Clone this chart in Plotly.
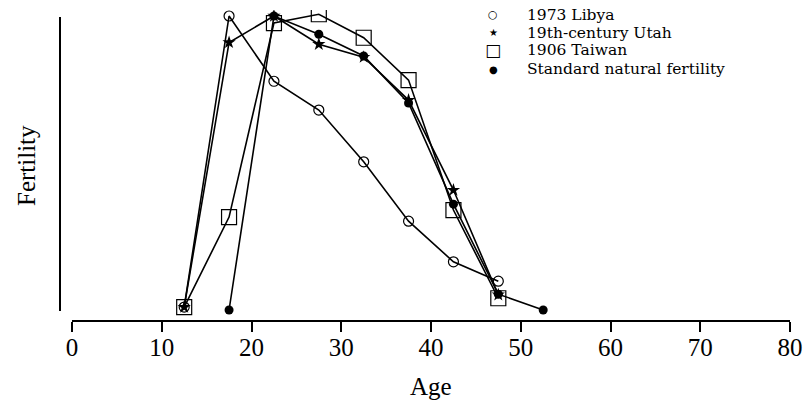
import plotly.graph_objects as go

ages = [12.5, 17.5, 22.5, 27.5, 32.5, 37.5, 42.5, 47.5]
ages_std = [17.5, 22.5, 27.5, 32.5, 37.5, 42.5, 47.5, 52.5]
libya = [0.005, 0.500, 0.389, 0.340, 0.252, 0.151, 0.082, 0.049]
utah = [0.005, 0.455, 0.500, 0.452, 0.430, 0.357, 0.204, 0.026]
taiwan = [0.005, 0.158, 0.488, 0.503, 0.463, 0.391, 0.170, 0.020]
standard = [0.0, 0.500, 0.469, 0.432, 0.352, 0.180, 0.027, 0.0]
x_ticks = [0, 10, 20, 30, 40, 50, 60, 70, 80]
series_names = ["1973 Libya", "19th-century Utah", "1906 Taiwan", "Standard natural fertility"]
legend_glyphs = ["○", "★", "□", "●"]

SERIF = "Liberation Serif"
marker_styles = [
    dict(symbol="circle-open", size=10, line=dict(width=1.2, color="black")),
    dict(symbol="star", size=10),
    dict(symbol="square-open", size=15, line=dict(width=1.2, color="black")),
    dict(symbol="circle", size=9),
]
series_x = [ages, ages, ages, ages_std]
series_y = [libya, utah, taiwan, standard]

fig = go.Figure()
for name, xs, ys, mk in zip(series_names, series_x, series_y, marker_styles):
    fig.add_trace(go.Scatter(x=xs, y=ys, mode="lines+markers", name=name,
                             line=dict(color="black", width=1.6), marker=dict(color="black", **mk),
                             showlegend=False))

W, H = 804, 406
# plot area in window pixels: x 72..790, y 10..320
L, R, T, B = 72, 804 - 790, 10, 406 - 320
pw, ph = W - L - R, H - T - B

def px(xp):
    return (xp - L) / pw

def py(yp):
    return (H - B - yp) / ph

annotations = []
legend_rows = [14.5, 32.5, 50.5, 69]
glyph_sizes = [11, 10, 17, 10]
for name, g, gs, yr in zip(series_names, legend_glyphs, glyph_sizes, legend_rows):
    annotations.append(dict(xref="paper", yref="paper", x=px(493), y=py(yr), text=g, showarrow=False,
                            xanchor="center", yanchor="middle", borderpad=0,
                            font=dict(family="DejaVu Sans", size=gs, color="black")))
    annotations.append(dict(xref="paper", yref="paper", x=px(526), y=py(yr), text=name, showarrow=False,
                            xanchor="left", yanchor="middle", borderpad=0,
                            font=dict(family="DejaVu Serif", size=15.5, color="black")))
annotations.append(dict(xref="paper", yref="paper", x=px(431), y=py(386), text="Age", showarrow=False,
                        xanchor="center", yanchor="middle", font=dict(family=SERIF, size=25, color="black")))
annotations.append(dict(xref="paper", yref="paper", x=px(27), y=py(166), text="Fertility", showarrow=False,
                        textangle=-90, xanchor="center", yanchor="middle", font=dict(family=SERIF, size=25, color="black")))

fig.update_layout(
    width=W, height=H,
    margin=dict(l=L, r=R, t=T, b=B, autoexpand=False),
    paper_bgcolor="white", plot_bgcolor="white",
    font=dict(family=SERIF, color="black"),
    showlegend=False,
    xaxis=dict(range=[0, 80], tickvals=x_ticks, ticks="outside", ticklen=10, tickwidth=1.5, tickcolor="black",
               showline=True, linecolor="black", linewidth=2, showgrid=False, zeroline=False, automargin=False,
               ticklabelstandoff=-6, tickfont=dict(size=25, family=SERIF)),
    yaxis=dict(range=[-0.017, 0.5102], showticklabels=False, ticks="", showgrid=False, zeroline=False,
               showline=False, automargin=False),
    annotations=annotations,
    shapes=[dict(type="line", xref="paper", yref="paper", x0=px(60), x1=px(60), y0=py(311), y1=py(17),
                 line=dict(color="black", width=2))],
)

# remove the default 8px page margin so the figure fills the window exactly
fig.write_html("out.html", config={"displayModeBar": False},
               post_script="document.body.style.margin='0px';")
